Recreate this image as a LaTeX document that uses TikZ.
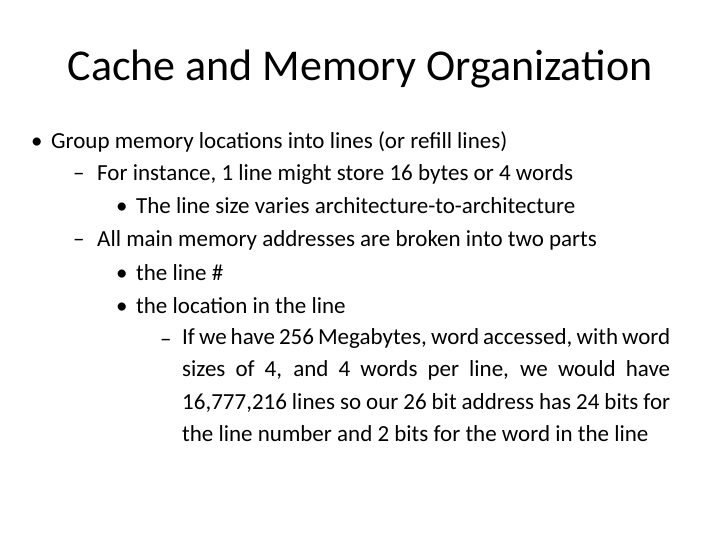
\documentclass[tikz,border=0pt]{standalone}
\usepackage{fontspec}
\setmainfont{Carlito}
\tikzset{
  line/.style={anchor=base west,inner sep=0pt,font=\fontsize{23}{27}\selectfont},
  bul/.style={anchor=base west,inner sep=0pt,font=\fontsize{23}{27}\selectfont}
}
\begin{document}
\begin{tikzpicture}[x=1pt,y=-1pt]
  \useasboundingbox (0,0) rectangle (720,540);

  \node[anchor=base,inner sep=0pt,font=\fontsize{44}{52}\selectfont] (title) at (360,81) {Cache and Memory Organization};

  \node[bul] (m1) at (31,149) {\textbullet};
  \node[line] (l1) at (51,149) {Group memory locations into lines (or refill lines)};
  \node[bul] (m2) at (73,181) {--};
  \node[line] (l2) at (97,181) {For instance, 1 line might store 16 bytes or 4 words};
  \node[bul] (m3) at (116,214) {\textbullet};
  \node[line] (l3) at (136,214) {The line size varies architecture-to-architecture};
  \node[bul] (m4) at (73,247) {--};
  \node[line] (l4) at (97,247) {All main memory addresses are broken into two parts};
  \node[bul] (m5) at (116,280) {\textbullet};
  \node[line] (l5) at (136,280) {the line \#};
  \node[bul] (m6) at (116,313) {\textbullet};
  \node[line] (l6) at (136,313) {the location in the line};
  \node[bul] (m7) at (160,346) {--};
  \node[anchor=north west,inner sep=0pt,text width=488pt,align=justify,
        font=\fontsize{23}{32.5}\selectfont] (l7) at (182,328)
    {If we have 256 Megabytes, word accessed, with word sizes of 4, and 4 words per line, we would have 16,777,216 lines so our 26 bit address has 24 bits for the line number and 2 bits for the word in the line};
\end{tikzpicture}
\end{document}
